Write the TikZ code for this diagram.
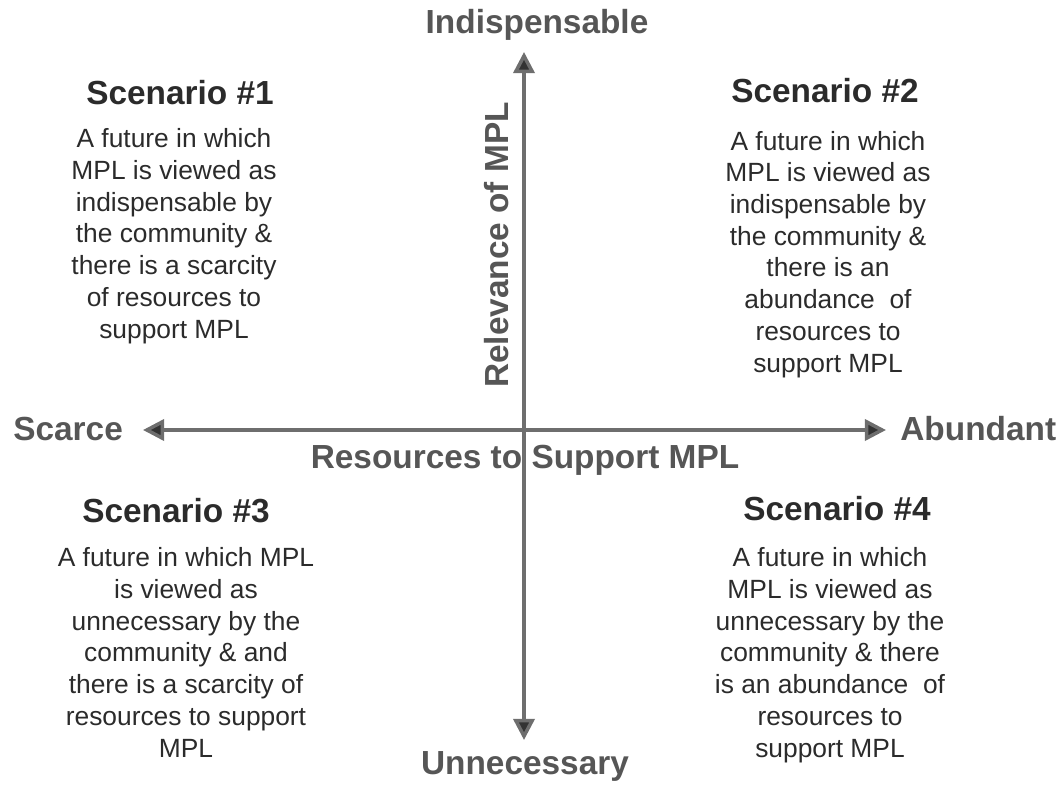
\documentclass[tikz,border=0pt]{standalone}
\usepackage{fontspec}
\setmainfont{Liberation Sans}
\usepackage{tikz}
\usetikzlibrary{arrows.meta}
\definecolor{ink}{HTML}{2B2B2B}
\definecolor{axisgray}{HTML}{6E6E6E}
\definecolor{labgray}{HTML}{565656}
\definecolor{tipfill}{HTML}{333333}
\tikzset{
  axisline/.style={draw=axisgray, line width=2pt,
    {Triangle[length=12pt,width=12pt,fill=tipfill]}-{Triangle[length=12pt,width=12pt,fill=tipfill]}},
  axislab/.style={text=labgray, font=\fontsize{19}{22}\selectfont\bfseries, inner sep=0pt},
  headlab/.style={text=ink, font=\fontsize{19}{22}\selectfont\bfseries, inner sep=0pt, anchor=base},
  bodylab/.style={text=ink, font=\fontsize{15}{18.05}\selectfont, align=center, inner sep=0pt, anchor=base},
}

\begin{document}
\begin{tikzpicture}[x=0.02cm, y=-0.02cm]
\useasboundingbox (0,0) rectangle (1061,784);

% Axes
\coordinate (top) at (524,52);
\coordinate (bottom) at (524,740);
\coordinate (left) at (143,430);
\coordinate (right) at (886,430);
\draw[axisline] (bottom) -- (top);
\draw[axisline] (left) -- (right);

% Axis labels
\node[axislab, anchor=base] (indisp) at (537,34) {Indispensable};
\node[axislab, anchor=base] (unnec) at (525,774) {Unnecessary};
\node[axislab, anchor=base west] (scarce) at (13,440) {Scarce};
\node[axislab, anchor=base west] (abund) at (900,440) {Abundant};
\node[axislab, anchor=base] (resources) at (525,468) {Resources to Support MPL};
\node[axislab, rotate=90, anchor=base] (relevance) at (508,245) {Relevance of MPL};

% Scenario 1 (body placed by its last baseline)
\node[headlab] (sc1) at (180,105) {Scenario \#1};
\node[bodylab] (txt1) at (174,338) {A future in which\\MPL is viewed as\\indispensable by\\the community \&\\there is a scarcity\\of resources to\\support MPL};

% Scenario 2
\node[headlab] (sc2) at (825,103) {Scenario \#2};
\node[bodylab] (txt2) at (828,372) {A future in which\\MPL is viewed as\\indispensable by\\the community \&\\there is an\\abundance\ \ of\\resources to\\support MPL};

% Scenario 3
\node[headlab] (sc3) at (176,522) {Scenario \#3};
\node[bodylab] (txt3) at (186,757) {A future in which MPL\\is viewed as\\unnecessary by the\\community \& and\\there is a scarcity of\\resources to support\\MPL};

% Scenario 4
\node[headlab] (sc4) at (837,520) {Scenario \#4};
\node[bodylab] (txt4) at (830,757) {A future in which\\MPL is viewed as\\unnecessary by the\\community \& there\\is an abundance\ \ of\\resources to\\support MPL};
\end{tikzpicture}
\end{document}
